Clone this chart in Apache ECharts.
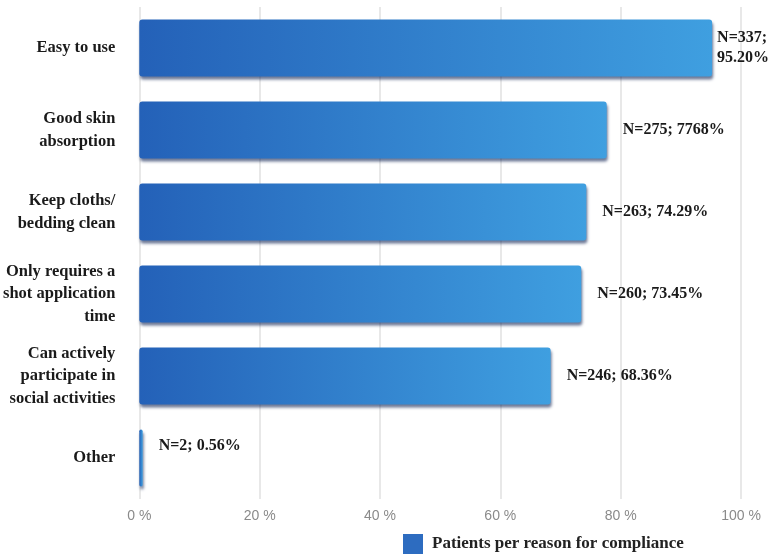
<!DOCTYPE html>
<html><head><meta charset="utf-8">
<script src="https://cdn.jsdelivr.net/npm/echarts@6/dist/echarts.min.js"></script>
<style>html,body{margin:0;padding:0;background:#fff}#c{width:771px;height:560px}</style>
</head><body><div id="c"></div>
<script>
var categories = ["Easy to use", "Good skin\nabsorption", "Keep cloths/\nbedding clean", "Only requires a\nshot application\ntime", "Can actively\nparticipate in\nsocial activities", "Other"];
var percents = [95.20, 77.68, 74.29, 73.45, 68.36, 0.56];
var counts = [337, 275, 263, 260, 246, 2];
var valueLabels = ["N=337;\n95.20%", "N=275; 7768%", "N=263; 74.29%", "N=260; 73.45%", "N=246; 68.36%", "N=2; 0.56%"];
var seriesName = "Patients per reason for compliance";

var serif = '"Liberation Serif", "DejaVu Serif", serif';
var data = percents.map(function (v, i) {
  var item = { value: v, name: categories[i] };
  if (i === 0) item.label = { distance: 5, lineHeight: 20 };
  if (i === percents.length - 1) item.label = { offset: [0, -12] };
  return item;
});

var chart = echarts.init(document.getElementById('c'));
chart.setOption({
  animation: false,
  backgroundColor: '#fff',
  grid: { left: 137, right: 30, top: 7, bottom: 61, containLabel: false },
  legend: {
    bottom: 1, left: 398,
    itemWidth: 20, itemHeight: 20, itemGap: 10,
    icon: 'rect',
    textStyle: { fontFamily: serif, fontWeight: 'bold', fontSize: 17, color: '#222', padding: [0, 0, 0, 4] },
    data: [{ name: seriesName, itemStyle: { color: '#2d6cc0' } }]
  },
  xAxis: {
    type: 'value', min: 0, max: 100, interval: 20,
    axisLine: { show: false }, axisTick: { show: false },
    splitLine: { lineStyle: { color: '#e0e0e0', width: 1.5 } },
    axisLabel: { formatter: '{value} %', color: '#8a8a8a', fontSize: 14, margin: 10, fontFamily: 'Arial, "Liberation Sans", sans-serif' }
  },
  yAxis: {
    type: 'category', inverse: true, data: categories,
    axisLine: { show: false }, axisTick: { show: false },
    axisLabel: { margin: 24, fontFamily: serif, fontWeight: 'bold', fontSize: 16.5, color: '#1a1a1a', lineHeight: 22.5, align: 'right' }
  },
  series: [{
    name: seriesName,
    type: 'bar',
    data: data,
    barWidth: 57,
    itemStyle: {
      color: new echarts.graphic.LinearGradient(0, 0, 1, 0, [
        { offset: 0, color: '#2461b8' },
        { offset: 1, color: '#3f9fe0' }
      ]),
      borderRadius: 3,
      shadowColor: 'rgba(10,30,80,0.6)',
      shadowBlur: 3,
      shadowOffsetY: 3,
      shadowOffsetX: 1
    },
    label: {
      show: true, position: 'right', distance: 16,
      formatter: function (p) { return valueLabels[p.dataIndex]; },
      fontFamily: serif, fontWeight: 'bold', fontSize: 16, color: '#1a1a1a', lineHeight: 20
    }
  }]
});
</script>
</body></html>
